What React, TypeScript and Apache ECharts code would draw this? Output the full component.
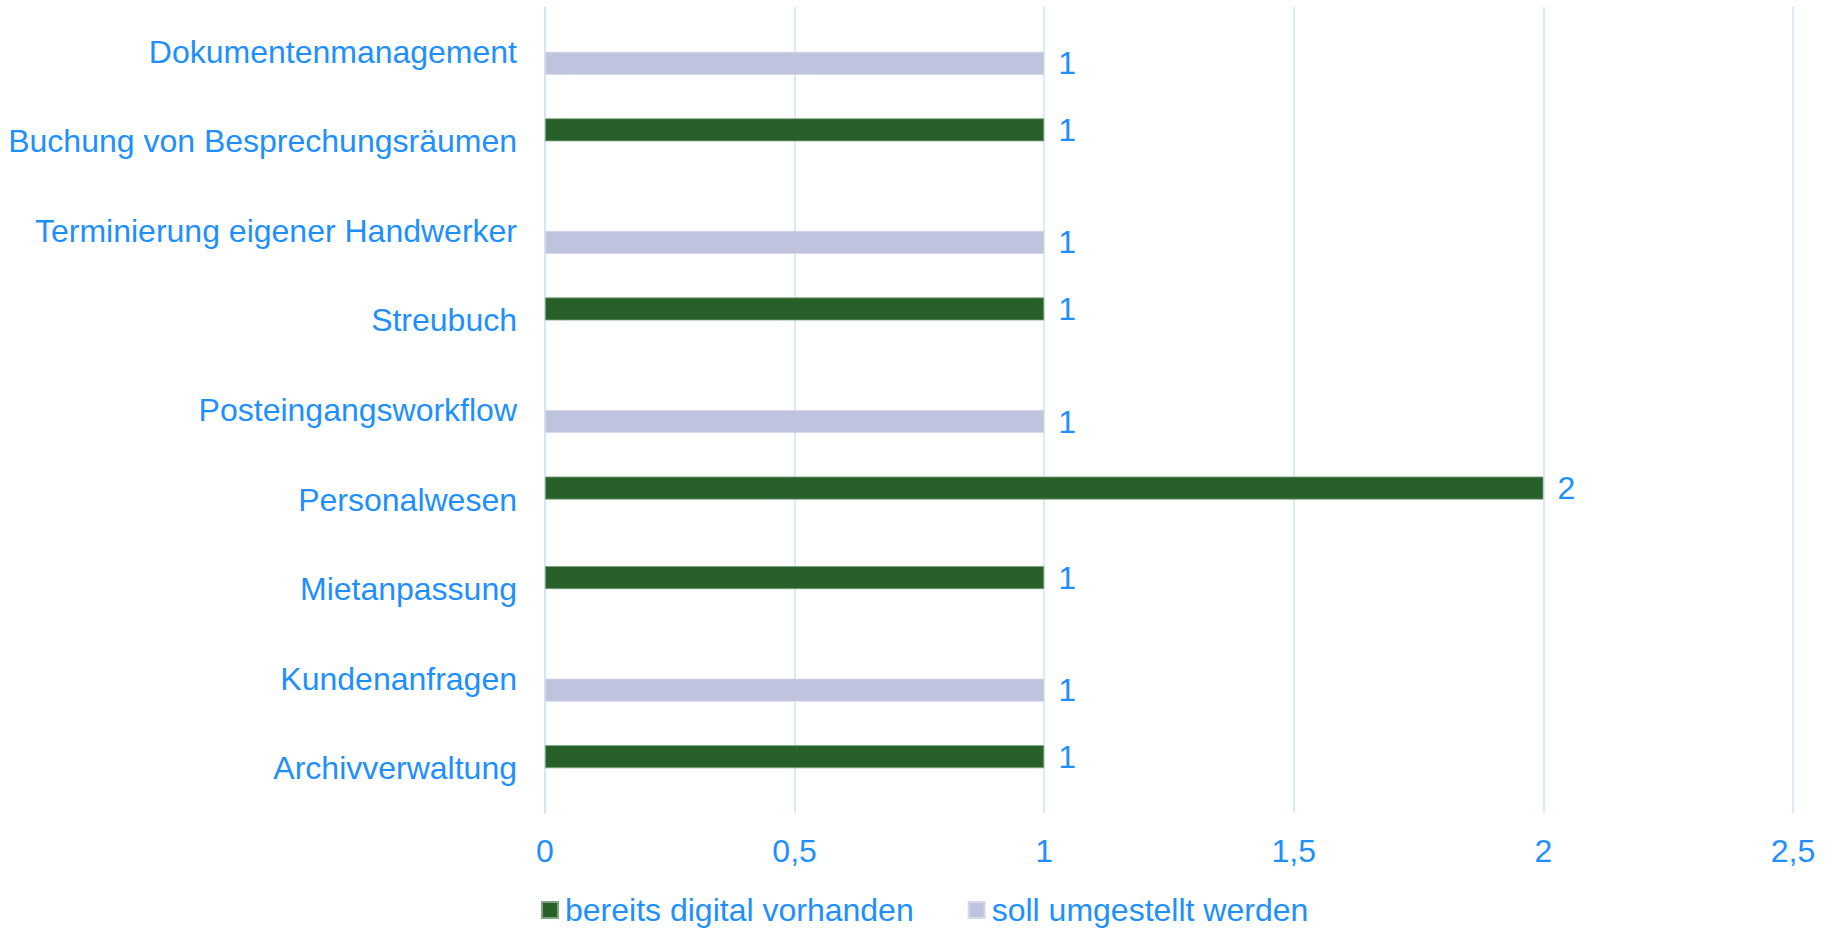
import React, { useEffect, useRef } from "react";
import * as echarts from "echarts";

const categories = [
  "Dokumentenmanagement",
  "Buchung von Besprechungsräumen",
  "Terminierung eigener Handwerker",
  "Streubuch",
  "Posteingangsworkflow",
  "Personalwesen",
  "Mietanpassung",
  "Kundenanfragen",
  "Archivverwaltung",
];
const seriesNames = ["bereits digital vorhanden", "soll umgestellt werden"];
const bereitsDigital = [null, 1, null, 1, null, 2, 1, null, 1];
const sollUmgestellt = [1, null, 1, null, 1, null, null, 1, null];
const xTicks = { min: 0, max: 2.5, interval: 0.5 };

const TEXT = "#1e8fff";
const FONT = "'Liberation Sans', Arial, sans-serif";
const FS = 32;

export default function App() {
  const ref = useRef<HTMLDivElement>(null);
  useEffect(() => {
    if (!ref.current) return;
    const chart = echarts.init(ref.current, null, { renderer: "svg" });
    const label = {
      show: true,
      position: "right",
      distance: 14,
      color: TEXT,
      fontSize: FS,
      fontFamily: FONT,
    };
    chart.setOption({
      animation: false,
      textStyle: { fontFamily: FONT },
      grid: { left: 545, right: 38, top: 7, bottom: 115, containLabel: false },
      legend: {
        data: seriesNames,
        left: 541,
        top: 894,
        padding: 0,
        itemWidth: 16,
        itemHeight: 16,
        itemGap: 54,
        icon: "rect",
        textStyle: { color: TEXT, fontSize: FS, fontFamily: FONT, lineHeight: 32, padding: [0, 0, 0, 2] },
      },
      xAxis: {
        type: "value",
        min: xTicks.min,
        max: xTicks.max,
        interval: xTicks.interval,
        axisLine: { show: false },
        axisTick: { show: false },
        splitLine: { show: true, lineStyle: { color: "#cfe3f8", width: 1.5 } },
        axisLabel: {
          color: TEXT,
          fontSize: FS,
          fontFamily: FONT,
          margin: 22,
          formatter: (v: number) => String(v).replace(".", ","),
        },
      },
      yAxis: {
        type: "category",
        data: categories,
        inverse: true,
        axisLine: { show: true, lineStyle: { color: "#cfe3f8", width: 1.5 } },
        axisTick: { show: false },
        splitLine: { show: false },
        axisLabel: { color: TEXT, fontSize: FS, fontFamily: FONT, margin: 28 },
      },
      series: [
        {
          name: seriesNames[0],
          type: "bar",
          data: bereitsDigital,
          barWidth: 23,
          barGap: "0%",
          itemStyle: { color: "#276129", borderColor: "#7fa47f", borderWidth: 0.8 },
          label,
        },
        {
          name: seriesNames[1],
          type: "bar",
          data: sollUmgestellt,
          barWidth: 23,
          barGap: "0%",
          itemStyle: { color: "#c0c3dd", borderColor: "#d6d8e8", borderWidth: 0.8 },
          label,
        },
      ],
    });
    return () => chart.dispose();
  }, []);
  return <div ref={ref} style={{ width: 1831, height: 928, position: "absolute", left: 0, top: 0 }} />;
}
